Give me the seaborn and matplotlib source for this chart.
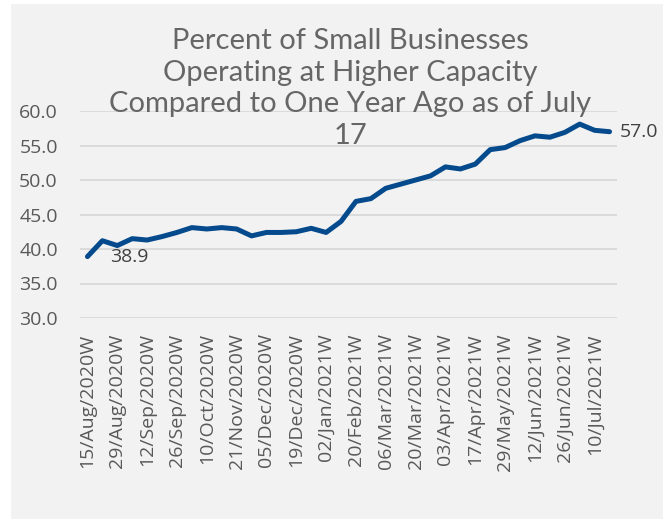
import matplotlib
matplotlib.use("Agg")
import matplotlib.pyplot as plt
import seaborn as sns
import pandas as pd
from matplotlib.patches import Rectangle

weeks = ["15/Aug/2020W", "22/Aug/2020W", "29/Aug/2020W", "05/Sep/2020W", "12/Sep/2020W",
         "19/Sep/2020W", "26/Sep/2020W", "03/Oct/2020W", "10/Oct/2020W", "14/Nov/2020W",
         "21/Nov/2020W", "28/Nov/2020W", "05/Dec/2020W", "12/Dec/2020W", "19/Dec/2020W",
         "26/Dec/2020W", "02/Jan/2021W", "13/Feb/2021W", "20/Feb/2021W", "27/Feb/2021W",
         "06/Mar/2021W", "13/Mar/2021W", "20/Mar/2021W", "27/Mar/2021W", "03/Apr/2021W",
         "10/Apr/2021W", "17/Apr/2021W", "22/May/2021W", "29/May/2021W", "05/Jun/2021W",
         "12/Jun/2021W", "19/Jun/2021W", "26/Jun/2021W", "03/Jul/2021W", "10/Jul/2021W",
         "17/Jul/2021W"]
percent = [38.9, 41.2, 40.5, 41.5, 41.3, 41.8, 42.4, 43.1, 42.9, 43.1,
           42.9, 41.9, 42.4, 42.4, 42.5, 43.0, 42.4, 44.0, 46.9, 47.3,
           48.8, 49.4, 50.0, 50.6, 51.9, 51.6, 52.3, 54.4, 54.7, 55.7,
           56.4, 56.2, 56.9, 58.1, 57.2, 57.0]
y_ticks = [30.0, 35.0, 40.0, 45.0, 50.0, 55.0, 60.0]
title = "Percent of Small Businesses\nOperating at Higher Capacity\nCompared to One Year Ago as of July\n17"

df = pd.DataFrame({"week": weeks, "pct": percent})

sns.set_theme(style="white")
plt.rcParams["font.family"] = ["Open Sans", "DejaVu Sans"]

W, H = 663, 519
fig = plt.figure(figsize=(W / 100, H / 100), dpi=100, facecolor="white")
fig.patches.append(Rectangle((11 / W, 0), 1 - 11 / W, 1 - 4 / H, transform=fig.transFigure,
                             facecolor="#f2f2f2", edgecolor="none", zorder=-10))

ax = fig.add_axes([80 / W, 1 - 318 / H, (617 - 80) / W, (318 - 111) / H])
ax.set_facecolor("none")
ax.set_zorder(2)

sns.lineplot(data=df, x="week", y="pct", ax=ax, color="#054a8c", linewidth=3.6,
             sort=False, solid_capstyle="round", solid_joinstyle="round", zorder=3)

ax.set_xlim(-0.5, len(weeks) - 0.5)
ax.set_ylim(30, 60)
ax.set_yticks(y_ticks)
ax.set_yticklabels([f"{v:.1f}" for v in y_ticks])
idx = [i for i in range(0, len(weeks), 2) if i <= 34]
ax.set_xticks(idx)
ax.set_xticklabels([weeks[i] for i in idx], rotation=90)
ax.set_xlabel("")
ax.set_ylabel("")

for s in ax.spines.values():
    s.set_visible(False)
ax.grid(axis="y", color="#d9d9d9", linewidth=1.3, zorder=0)
ax.grid(axis="x", visible=False)
ax.tick_params(axis="y", length=0, pad=16, labelsize=14, labelcolor="#595959")
ax.tick_params(axis="x", length=0, pad=11, labelsize=14, labelcolor="#595959")

ax.annotate(f"{percent[0]:.1f}", xy=(0, percent[0]), xytext=(23, 0), textcoords="offset pixels",
            ha="left", va="center", fontsize=14, color="#404040")
ax.annotate(f"{percent[-1]:.1f}", xy=(len(weeks) - 1, percent[-1]), xytext=(10, 0),
            textcoords="offset pixels", ha="left", va="center", fontsize=14, color="#404040",
            annotation_clip=False)

fig.text(350 / W, 1 - 88.5 / H, title, ha="center", va="center", fontsize=21,
         color="#666666", fontweight="normal", family=["Lato", "DejaVu Sans"],
         linespacing=1.27, zorder=5)

fig.savefig("out.png", dpi=100, facecolor="white")
